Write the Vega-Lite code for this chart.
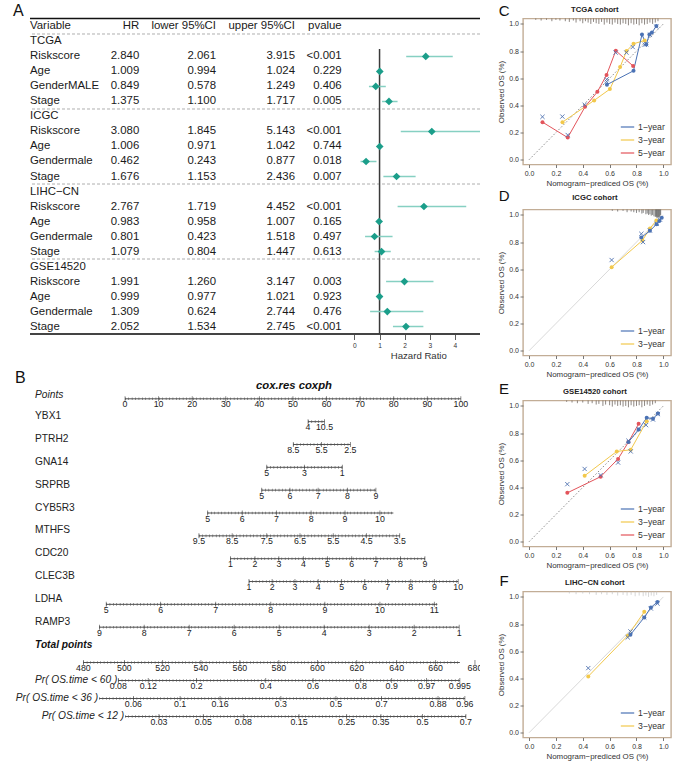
{
"$schema":"https://vega.github.io/schema/vega-lite/v6.json",
"padding":{"left":13,"top":2.5,"right":0,"bottom":0},
"spacing":16,
"config":{"font":"Liberation Sans","view":{"stroke":null},"text":{"font":"Liberation Sans"},"axis":{"labelFont":"Liberation Sans","titleFont":"Liberation Sans","grid":false,"labelFlush":false,"labelOverlap":false},"legend":{"labelFont":"Liberation Sans"}},
"datasets":{
"forest":[
{"i":0,"var":"Variable","p":"pvalue"},
{"i":1,"var":"TCGA"},
{"i":2,"var":"Riskscore","hr":2.840,"lo":2.061,"hi":3.915,"p":"<0.001"},
{"i":3,"var":"Age","hr":1.009,"lo":0.994,"hi":1.024,"p":"0.229"},
{"i":4,"var":"GenderMALE","hr":0.849,"lo":0.578,"hi":1.249,"p":"0.406"},
{"i":5,"var":"Stage","hr":1.375,"lo":1.100,"hi":1.717,"p":"0.005"},
{"i":6,"var":"ICGC"},
{"i":7,"var":"Riskscore","hr":3.080,"lo":1.845,"hi":5.143,"p":"<0.001"},
{"i":8,"var":"Age","hr":1.006,"lo":0.971,"hi":1.042,"p":"0.744"},
{"i":9,"var":"Gendermale","hr":0.462,"lo":0.243,"hi":0.877,"p":"0.018"},
{"i":10,"var":"Stage","hr":1.676,"lo":1.153,"hi":2.436,"p":"0.007"},
{"i":11,"var":"LIHC−CN"},
{"i":12,"var":"Riskscore","hr":2.767,"lo":1.719,"hi":4.452,"p":"<0.001"},
{"i":13,"var":"Age","hr":0.983,"lo":0.958,"hi":1.007,"p":"0.165"},
{"i":14,"var":"Gendermale","hr":0.801,"lo":0.423,"hi":1.518,"p":"0.497"},
{"i":15,"var":"Stage","hr":1.079,"lo":0.804,"hi":1.447,"p":"0.613"},
{"i":16,"var":"GSE14520"},
{"i":17,"var":"Riskscore","hr":1.991,"lo":1.260,"hi":3.147,"p":"0.003"},
{"i":18,"var":"Age","hr":0.999,"lo":0.977,"hi":1.021,"p":"0.923"},
{"i":19,"var":"Gendermale","hr":1.309,"lo":0.624,"hi":2.744,"p":"0.476"},
{"i":20,"var":"Stage","hr":2.052,"lo":1.534,"hi":2.745,"p":"<0.001"}
],
"nomoLines":[
{"g":"u","row":"Points","lo":0,"hi":100},
{"g":"u","row":"YBX1","lo":54.5,"hi":59.4},
{"g":"u","row":"PTRH2","lo":50.1,"hi":67.1},
{"g":"u","row":"GNA14","lo":42.2,"hi":64.7},
{"g":"u","row":"SRPRB","lo":40.7,"hi":74.7},
{"g":"u","row":"CYB5R3","lo":24.6,"hi":79.9},
{"g":"u","row":"MTHFS","lo":22.0,"hi":81.8},
{"g":"u","row":"CDC20","lo":31.4,"hi":89.3},
{"g":"u","row":"CLEC3B","lo":36.9,"hi":99.2},
{"g":"u","row":"LDHA","lo":-5.6,"hi":93.0},
{"g":"u","row":"RAMP3","lo":-7.6,"hi":99.5},
{"g":"l","row":"tp","lo":-12.4,"hi":99.7},
{"g":"l","row":"pr60","name":"Pr( OS.time < 60 )","lo":-2.0,"hi":99.7},
{"g":"l","row":"pr36","name":"Pr( OS.time < 36 )","lo":-7.7,"hi":101.2},
{"g":"l","row":"pr12","name":"Pr( OS.time < 12 )","lo":0.0,"hi":101.5}
],
"nomoTicks":[
{"g":"u","row":"Points","pts":0,"lab":"0"},{"g":"u","row":"Points","pts":10,"lab":"10"},{"g":"u","row":"Points","pts":20,"lab":"20"},{"g":"u","row":"Points","pts":30,"lab":"30"},{"g":"u","row":"Points","pts":40,"lab":"40"},{"g":"u","row":"Points","pts":50,"lab":"50"},{"g":"u","row":"Points","pts":60,"lab":"60"},{"g":"u","row":"Points","pts":70,"lab":"70"},{"g":"u","row":"Points","pts":80,"lab":"80"},{"g":"u","row":"Points","pts":90,"lab":"90"},{"g":"u","row":"Points","pts":100,"lab":"100"},
{"g":"u","row":"YBX1","pts":54.5,"lab":"4"},{"g":"u","row":"YBX1","pts":59.4,"lab":"10.5"},
{"g":"u","row":"PTRH2","pts":50.1,"lab":"8.5"},{"g":"u","row":"PTRH2","pts":58.5,"lab":"5.5"},{"g":"u","row":"PTRH2","pts":67.1,"lab":"2.5"},
{"g":"u","row":"GNA14","pts":42.2,"lab":"5"},{"g":"u","row":"GNA14","pts":53.4,"lab":"3"},{"g":"u","row":"GNA14","pts":64.7,"lab":"1"},
{"g":"u","row":"SRPRB","pts":40.7,"lab":"5"},{"g":"u","row":"SRPRB","pts":49.1,"lab":"6"},{"g":"u","row":"SRPRB","pts":57.5,"lab":"7"},{"g":"u","row":"SRPRB","pts":66.2,"lab":"8"},{"g":"u","row":"SRPRB","pts":74.7,"lab":"9"},
{"g":"u","row":"CYB5R3","pts":24.6,"lab":"5"},{"g":"u","row":"CYB5R3","pts":34.9,"lab":"6"},{"g":"u","row":"CYB5R3","pts":45.1,"lab":"7"},{"g":"u","row":"CYB5R3","pts":55.4,"lab":"8"},{"g":"u","row":"CYB5R3","pts":65.5,"lab":"9"},{"g":"u","row":"CYB5R3","pts":75.9,"lab":"10"},
{"g":"u","row":"MTHFS","pts":22.0,"lab":"9.5"},{"g":"u","row":"MTHFS","pts":31.9,"lab":"8.5"},{"g":"u","row":"MTHFS","pts":42.2,"lab":"7.5"},{"g":"u","row":"MTHFS","pts":52.1,"lab":"6.5"},{"g":"u","row":"MTHFS","pts":62.0,"lab":"5.5"},{"g":"u","row":"MTHFS","pts":71.9,"lab":"4.5"},{"g":"u","row":"MTHFS","pts":81.8,"lab":"3.5"},
{"g":"u","row":"CDC20","pts":31.4,"lab":"1"},{"g":"u","row":"CDC20","pts":38.7,"lab":"2"},{"g":"u","row":"CDC20","pts":45.8,"lab":"3"},{"g":"u","row":"CDC20","pts":53.1,"lab":"4"},{"g":"u","row":"CDC20","pts":60.3,"lab":"5"},{"g":"u","row":"CDC20","pts":67.5,"lab":"6"},{"g":"u","row":"CDC20","pts":74.7,"lab":"7"},{"g":"u","row":"CDC20","pts":82.0,"lab":"8"},{"g":"u","row":"CDC20","pts":89.3,"lab":"9"},
{"g":"u","row":"CLEC3B","pts":36.9,"lab":"1"},{"g":"u","row":"CLEC3B","pts":43.8,"lab":"2"},{"g":"u","row":"CLEC3B","pts":50.6,"lab":"3"},{"g":"u","row":"CLEC3B","pts":57.5,"lab":"4"},{"g":"u","row":"CLEC3B","pts":64.5,"lab":"5"},{"g":"u","row":"CLEC3B","pts":71.4,"lab":"6"},{"g":"u","row":"CLEC3B","pts":78.2,"lab":"7"},{"g":"u","row":"CLEC3B","pts":85.1,"lab":"8"},{"g":"u","row":"CLEC3B","pts":92.1,"lab":"9"},{"g":"u","row":"CLEC3B","pts":99.2,"lab":"10"},
{"g":"u","row":"LDHA","pts":-5.6,"lab":"5"},{"g":"u","row":"LDHA","pts":10.6,"lab":"6"},{"g":"u","row":"LDHA","pts":27.0,"lab":"7"},{"g":"u","row":"LDHA","pts":43.4,"lab":"8"},{"g":"u","row":"LDHA","pts":59.5,"lab":"9"},{"g":"u","row":"LDHA","pts":75.9,"lab":"10"},{"g":"u","row":"LDHA","pts":92.1,"lab":"11"},
{"g":"u","row":"RAMP3","pts":-7.6,"lab":"9"},{"g":"u","row":"RAMP3","pts":5.7,"lab":"8"},{"g":"u","row":"RAMP3","pts":19.1,"lab":"7"},{"g":"u","row":"RAMP3","pts":32.5,"lab":"6"},{"g":"u","row":"RAMP3","pts":45.9,"lab":"5"},{"g":"u","row":"RAMP3","pts":59.3,"lab":"4"},{"g":"u","row":"RAMP3","pts":72.7,"lab":"3"},{"g":"u","row":"RAMP3","pts":86.1,"lab":"2"},{"g":"u","row":"RAMP3","pts":99.5,"lab":"1"},
{"g":"l","row":"tp","pts":-12.4,"lab":"480"},{"g":"l","row":"tp","pts":-0.2,"lab":"500"},{"g":"l","row":"tp","pts":11.2,"lab":"520"},{"g":"l","row":"tp","pts":22.6,"lab":"540"},{"g":"l","row":"tp","pts":34.2,"lab":"560"},{"g":"l","row":"tp","pts":45.8,"lab":"580"},{"g":"l","row":"tp","pts":57.3,"lab":"600"},{"g":"l","row":"tp","pts":69.0,"lab":"620"},{"g":"l","row":"tp","pts":80.9,"lab":"640"},{"g":"l","row":"tp","pts":92.5,"lab":"660"},{"g":"l","row":"tp","pts":104.2,"lab":"680"},
{"g":"l","row":"pr60","pts":-2.0,"lab":"0.08"},{"g":"l","row":"pr60","pts":6.9,"lab":"0.12"},{"g":"l","row":"pr60","pts":21.3,"lab":"0.2"},{"g":"l","row":"pr60","pts":41.9,"lab":"0.4"},{"g":"l","row":"pr60","pts":56.0,"lab":"0.6"},{"g":"l","row":"pr60","pts":70.2,"lab":"0.8"},{"g":"l","row":"pr60","pts":79.4,"lab":"0.9"},{"g":"l","row":"pr60","pts":89.8,"lab":"0.97"},{"g":"l","row":"pr60","pts":99.7,"lab":"0.995"},
{"g":"l","row":"pr36","pts":2.5,"lab":"0.06"},{"g":"l","row":"pr36","pts":16.4,"lab":"0.1"},{"g":"l","row":"pr36","pts":28.3,"lab":"0.16"},{"g":"l","row":"pr36","pts":46.4,"lab":"0.3"},{"g":"l","row":"pr36","pts":62.8,"lab":"0.5"},{"g":"l","row":"pr36","pts":76.4,"lab":"0.7"},{"g":"l","row":"pr36","pts":93.2,"lab":"0.88"},{"g":"l","row":"pr36","pts":101.2,"lab":"0.96"},
{"g":"l","row":"pr12","pts":10.1,"lab":"0.03"},{"g":"l","row":"pr12","pts":23.3,"lab":"0.05"},{"g":"l","row":"pr12","pts":35.2,"lab":"0.08"},{"g":"l","row":"pr12","pts":51.8,"lab":"0.15"},{"g":"l","row":"pr12","pts":66.0,"lab":"0.25"},{"g":"l","row":"pr12","pts":76.2,"lab":"0.35"},{"g":"l","row":"pr12","pts":88.6,"lab":"0.5"},{"g":"l","row":"pr12","pts":101.5,"lab":"0.7"}
],
"cal":[
{"p":"C","s":"5−year","x":0.10,"y":0.277},{"p":"C","s":"5−year","x":0.288,"y":0.163},{"p":"C","s":"5−year","x":0.417,"y":0.39},{"p":"C","s":"5−year","x":0.509,"y":0.50},{"p":"C","s":"5−year","x":0.577,"y":0.624},{"p":"C","s":"5−year","x":0.646,"y":0.803},{"p":"C","s":"5−year","x":0.775,"y":0.69},
{"p":"C","s":"3−year","x":0.249,"y":0.277},{"p":"C","s":"3−year","x":0.485,"y":0.437},{"p":"C","s":"3−year","x":0.602,"y":0.52},{"p":"C","s":"3−year","x":0.678,"y":0.683},{"p":"C","s":"3−year","x":0.726,"y":0.80},{"p":"C","s":"3−year","x":0.778,"y":0.854},{"p":"C","s":"3−year","x":0.861,"y":0.878},
{"p":"C","s":"1−year","x":0.58,"y":0.553},{"p":"C","s":"1−year","x":0.778,"y":0.655},{"p":"C","s":"1−year","x":0.841,"y":0.922},{"p":"C","s":"1−year","x":0.873,"y":0.849},{"p":"C","s":"1−year","x":0.896,"y":0.922},{"p":"C","s":"1−year","x":0.915,"y":0.936},{"p":"C","s":"1−year","x":0.948,"y":0.985},
{"p":"D","s":"3−year","x":0.615,"y":0.615},{"p":"D","s":"3−year","x":0.844,"y":0.812},{"p":"D","s":"3−year","x":0.90,"y":0.90},{"p":"D","s":"3−year","x":0.948,"y":0.959},
{"p":"D","s":"1−year","x":0.836,"y":0.834},{"p":"D","s":"1−year","x":0.90,"y":0.883},{"p":"D","s":"1−year","x":0.95,"y":0.932},{"p":"D","s":"1−year","x":0.97,"y":0.956},{"p":"D","s":"1−year","x":0.988,"y":0.98},
{"p":"E","s":"5−year","x":0.285,"y":0.36},{"p":"E","s":"5−year","x":0.533,"y":0.479},{"p":"E","s":"5−year","x":0.663,"y":0.61},{"p":"E","s":"5−year","x":0.74,"y":0.734},{"p":"E","s":"5−year","x":0.816,"y":0.868},
{"p":"E","s":"3−year","x":0.414,"y":0.486},{"p":"E","s":"3−year","x":0.653,"y":0.665},{"p":"E","s":"3−year","x":0.757,"y":0.677},{"p":"E","s":"3−year","x":0.876,"y":0.888},
{"p":"E","s":"1−year","x":0.74,"y":0.734},{"p":"E","s":"1−year","x":0.816,"y":0.826},{"p":"E","s":"1−year","x":0.876,"y":0.913},{"p":"E","s":"1−year","x":0.923,"y":0.906},{"p":"E","s":"1−year","x":0.96,"y":0.945},
{"p":"F","s":"3−year","x":0.441,"y":0.415},{"p":"F","s":"3−year","x":0.735,"y":0.715},{"p":"F","s":"3−year","x":0.858,"y":0.89},
{"p":"F","s":"1−year","x":0.755,"y":0.722},{"p":"F","s":"1−year","x":0.858,"y":0.849},{"p":"F","s":"1−year","x":0.907,"y":0.922},{"p":"F","s":"1−year","x":0.956,"y":0.963}
],
"bc":[
{"p":"C","x":0.10,"y":0.316},{"p":"C","x":0.248,"y":0.318},{"p":"C","x":0.288,"y":0.182},{"p":"C","x":0.414,"y":0.405},{"p":"C","x":0.578,"y":0.592},{"p":"C","x":0.578,"y":0.575},{"p":"C","x":0.645,"y":0.789},{"p":"C","x":0.725,"y":0.789},{"p":"C","x":0.772,"y":0.83},{"p":"C","x":0.861,"y":0.847},{"p":"C","x":0.873,"y":0.85},{"p":"C","x":0.9,"y":0.92},{"p":"C","x":0.948,"y":0.98},
{"p":"D","x":0.615,"y":0.668},{"p":"D","x":0.836,"y":0.861},{"p":"D","x":0.849,"y":0.80},{"p":"D","x":0.90,"y":0.885},{"p":"D","x":0.95,"y":0.935},{"p":"D","x":0.975,"y":0.965},
{"p":"E","x":0.285,"y":0.424},{"p":"E","x":0.414,"y":0.536},{"p":"E","x":0.533,"y":0.49},{"p":"E","x":0.663,"y":0.583},{"p":"E","x":0.757,"y":0.665},{"p":"E","x":0.74,"y":0.744},{"p":"E","x":0.816,"y":0.83},{"p":"E","x":0.871,"y":0.859},{"p":"E","x":0.923,"y":0.9},{"p":"E","x":0.96,"y":0.94},
{"p":"F","x":0.441,"y":0.476},{"p":"F","x":0.735,"y":0.702},{"p":"F","x":0.755,"y":0.746},{"p":"F","x":0.858,"y":0.849},{"p":"F","x":0.907,"y":0.915},{"p":"F","x":0.956,"y":0.951}
],
"rug":[
{"p":"C","x":0.05,"y":1.03},{"p":"C","x":0.09,"y":1.025},{"p":"C","x":0.13,"y":1.03},{"p":"C","x":0.17,"y":1.02},{"p":"C","x":0.2,"y":1.03},{"p":"C","x":0.23,"y":1.025},{"p":"C","x":0.27,"y":1.02},{"p":"C","x":0.3,"y":1.015},{"p":"C","x":0.33,"y":1.025},{"p":"C","x":0.35,"y":1.01},{"p":"C","x":0.38,"y":1.02},{"p":"C","x":0.4,"y":1.005},{"p":"C","x":0.42,"y":1.02},{"p":"C","x":0.44,"y":1.01},{"p":"C","x":0.46,"y":1.0},{"p":"C","x":0.48,"y":1.015},{"p":"C","x":0.5,"y":1.005},{"p":"C","x":0.52,"y":1.0},{"p":"C","x":0.54,"y":1.015},{"p":"C","x":0.56,"y":0.995},{"p":"C","x":0.58,"y":1.01},{"p":"C","x":0.6,"y":1.0},{"p":"C","x":0.62,"y":0.995},{"p":"C","x":0.64,"y":1.01},{"p":"C","x":0.66,"y":1.0},{"p":"C","x":0.68,"y":0.995},{"p":"C","x":0.7,"y":1.005},{"p":"C","x":0.72,"y":1.0},{"p":"C","x":0.74,"y":0.99},{"p":"C","x":0.76,"y":1.005},{"p":"C","x":0.78,"y":0.995},{"p":"C","x":0.8,"y":1.0},{"p":"C","x":0.82,"y":0.99},{"p":"C","x":0.84,"y":1.005},{"p":"C","x":0.86,"y":0.995},{"p":"C","x":0.88,"y":1.0},{"p":"C","x":0.9,"y":1.01},{"p":"C","x":0.92,"y":1.0},{"p":"C","x":0.94,"y":1.01},{"p":"C","x":0.96,"y":1.02},
{"p":"D","x":0.62,"y":1.03},{"p":"D","x":0.66,"y":1.025},{"p":"D","x":0.7,"y":1.03},{"p":"D","x":0.73,"y":1.02},{"p":"D","x":0.76,"y":1.025},{"p":"D","x":0.78,"y":1.02},{"p":"D","x":0.8,"y":1.015},{"p":"D","x":0.82,"y":1.02},{"p":"D","x":0.84,"y":1.01},{"p":"D","x":0.85,"y":1.015},{"p":"D","x":0.87,"y":1.005},{"p":"D","x":0.88,"y":1.01},{"p":"D","x":0.89,"y":1.0},{"p":"D","x":0.9,"y":1.005},{"p":"D","x":0.91,"y":0.995},{"p":"D","x":0.92,"y":1.0},{"p":"D","x":0.93,"y":0.99},{"p":"D","x":0.94,"y":0.985},{"p":"D","x":0.945,"y":0.99},{"p":"D","x":0.95,"y":0.98},{"p":"D","x":0.955,"y":0.985},{"p":"D","x":0.96,"y":0.975},{"p":"D","x":0.965,"y":0.985},{"p":"D","x":0.97,"y":0.98},{"p":"D","x":0.975,"y":0.99},{"p":"D","x":0.98,"y":1.0},
{"p":"E","x":0.28,"y":1.03},{"p":"E","x":0.32,"y":1.025},{"p":"E","x":0.36,"y":1.02},{"p":"E","x":0.4,"y":1.025},{"p":"E","x":0.44,"y":1.015},{"p":"E","x":0.47,"y":1.02},{"p":"E","x":0.5,"y":1.01},{"p":"E","x":0.52,"y":1.015},{"p":"E","x":0.55,"y":1.0},{"p":"E","x":0.57,"y":1.01},{"p":"E","x":0.6,"y":1.005},{"p":"E","x":0.62,"y":0.995},{"p":"E","x":0.64,"y":1.01},{"p":"E","x":0.66,"y":1.0},{"p":"E","x":0.68,"y":1.005},{"p":"E","x":0.7,"y":0.995},{"p":"E","x":0.72,"y":1.0},{"p":"E","x":0.74,"y":0.99},{"p":"E","x":0.76,"y":1.005},{"p":"E","x":0.78,"y":0.995},{"p":"E","x":0.8,"y":1.0},{"p":"E","x":0.82,"y":1.005},{"p":"E","x":0.84,"y":0.99},{"p":"E","x":0.86,"y":1.0},{"p":"E","x":0.88,"y":1.01},{"p":"E","x":0.9,"y":1.0},{"p":"E","x":0.92,"y":1.01},{"p":"E","x":0.94,"y":1.02},
{"p":"F","x":0.3,"y":1.025},{"p":"F","x":0.35,"y":1.02},{"p":"F","x":0.4,"y":1.025},{"p":"F","x":0.45,"y":1.02},{"p":"F","x":0.5,"y":1.015},{"p":"F","x":0.54,"y":1.02},{"p":"F","x":0.58,"y":1.015},{"p":"F","x":0.62,"y":1.02},{"p":"F","x":0.66,"y":1.01},{"p":"F","x":0.7,"y":1.015},{"p":"F","x":0.73,"y":1.01},{"p":"F","x":0.76,"y":1.015},{"p":"F","x":0.79,"y":1.005},{"p":"F","x":0.82,"y":1.01},{"p":"F","x":0.85,"y":1.005},{"p":"F","x":0.87,"y":1.01},{"p":"F","x":0.89,"y":1.0},{"p":"F","x":0.91,"y":1.01},{"p":"F","x":0.93,"y":1.005},{"p":"F","x":0.95,"y":1.015}
]
},
"hconcat":[
{"bounds":"flush","spacing":56,"vconcat":[
{"width":450,"height":316,
"data":{"name":"forest"},
"resolve":{"scale":{"x":"independent"},"axis":{"x":"independent"}},
"layer":[
{"layer":[
{"data":{"values":[{}]},"mark":{"type":"rule","stroke":"#111111","strokeWidth":1.5},"encoding":{"y":{"datum":-0.533,"type":"quantitative","scale":{"domain":[-0.533,20.533],"reverse":true,"nice":false,"zero":false},"axis":null}}},
{"data":{"values":[{"s":0.5},{"s":5.5},{"s":10.5},{"s":15.5}]},"mark":{"type":"rule","stroke":"#9a9a9a","strokeWidth":0.8,"strokeDash":[3,2]},"encoding":{"y":{"field":"s","type":"quantitative","scale":{"domain":[-0.533,20.533],"reverse":true,"nice":false,"zero":false},"axis":null}}},
{"data":{"values":[{}]},"mark":{"type":"rule","stroke":"#444444","strokeWidth":2},"encoding":{"y":{"datum":20.5,"type":"quantitative","scale":{"domain":[-0.533,20.533],"reverse":true,"nice":false,"zero":false},"axis":null}}},
{"data":{"values":[{}]},"mark":{"type":"text","text":"A","fontSize":16,"align":"left","baseline":"middle","color":"#111111"},"encoding":{"x":{"datum":-17,"type":"quantitative","scale":{"domain":[0,450],"nice":false,"zero":false},"axis":null},"y":{"datum":-1.033,"type":"quantitative","scale":{"domain":[-0.533,20.533],"reverse":true,"nice":false,"zero":false},"axis":null}}},
{"mark":{"type":"text","fontSize":11.4,"align":"left","baseline":"middle","color":"#1a1a1a"},"encoding":{"x":{"datum":0,"type":"quantitative","scale":{"domain":[0,450],"nice":false,"zero":false},"axis":null},"y":{"field":"i","type":"quantitative","scale":{"domain":[-0.533,20.533],"reverse":true,"nice":false,"zero":false},"axis":null},"text":{"field":"var","type":"nominal"}}},
{"transform":[{"filter":"isValid(datum.hr)"}],"mark":{"type":"text","fontSize":11.4,"align":"right","baseline":"middle","color":"#1a1a1a"},"encoding":{"x":{"datum":109.3,"type":"quantitative","scale":{"domain":[0,450],"nice":false,"zero":false},"axis":null},"y":{"field":"i","type":"quantitative","scale":{"domain":[-0.533,20.533],"reverse":true,"nice":false,"zero":false},"axis":null},"text":{"field":"hr","type":"quantitative","format":".3f"}}},
{"transform":[{"filter":"isValid(datum.hr)"}],"mark":{"type":"text","fontSize":11.4,"align":"right","baseline":"middle","color":"#1a1a1a"},"encoding":{"x":{"datum":186,"type":"quantitative","scale":{"domain":[0,450],"nice":false,"zero":false},"axis":null},"y":{"field":"i","type":"quantitative","scale":{"domain":[-0.533,20.533],"reverse":true,"nice":false,"zero":false},"axis":null},"text":{"field":"lo","type":"quantitative","format":".3f"}}},
{"transform":[{"filter":"isValid(datum.hr)"}],"mark":{"type":"text","fontSize":11.4,"align":"right","baseline":"middle","color":"#1a1a1a"},"encoding":{"x":{"datum":265,"type":"quantitative","scale":{"domain":[0,450],"nice":false,"zero":false},"axis":null},"y":{"field":"i","type":"quantitative","scale":{"domain":[-0.533,20.533],"reverse":true,"nice":false,"zero":false},"axis":null},"text":{"field":"hi","type":"quantitative","format":".3f"}}},
{"transform":[{"filter":"isValid(datum.p)"}],"mark":{"type":"text","fontSize":11.4,"align":"right","baseline":"middle","color":"#1a1a1a"},"encoding":{"x":{"datum":311.7,"type":"quantitative","scale":{"domain":[0,450],"nice":false,"zero":false},"axis":null},"y":{"field":"i","type":"quantitative","scale":{"domain":[-0.533,20.533],"reverse":true,"nice":false,"zero":false},"axis":null},"text":{"field":"p","type":"nominal"}}},
{"data":{"values":[{"t":"HR"}]},"mark":{"type":"text","fontSize":11.4,"align":"right","baseline":"middle","color":"#1a1a1a"},"encoding":{"x":{"datum":109.3,"type":"quantitative","scale":{"domain":[0,450],"nice":false,"zero":false},"axis":null},"y":{"datum":0,"type":"quantitative","scale":{"domain":[-0.533,20.533],"reverse":true,"nice":false,"zero":false},"axis":null},"text":{"field":"t","type":"nominal"}}},
{"data":{"values":[{"t":"lower 95%CI"}]},"mark":{"type":"text","fontSize":11.4,"align":"right","baseline":"middle","color":"#1a1a1a"},"encoding":{"x":{"datum":186,"type":"quantitative","scale":{"domain":[0,450],"nice":false,"zero":false},"axis":null},"y":{"datum":0,"type":"quantitative","scale":{"domain":[-0.533,20.533],"reverse":true,"nice":false,"zero":false},"axis":null},"text":{"field":"t","type":"nominal"}}},
{"data":{"values":[{"t":"upper 95%CI"}]},"mark":{"type":"text","fontSize":11.4,"align":"right","baseline":"middle","color":"#1a1a1a"},"encoding":{"x":{"datum":265,"type":"quantitative","scale":{"domain":[0,450],"nice":false,"zero":false},"axis":null},"y":{"datum":0,"type":"quantitative","scale":{"domain":[-0.533,20.533],"reverse":true,"nice":false,"zero":false},"axis":null},"text":{"field":"t","type":"nominal"}}}
]},
{"layer":[
{"data":{"values":[{}]},"mark":{"type":"rule","stroke":"#3a3a3a","strokeWidth":1.5},"encoding":{"x":{"datum":1,"type":"quantitative","scale":{"domain":[-12.92,5.0],"nice":false,"zero":false},"axis":{"orient":"bottom","values":[0,1,2,3,4],"tickCount":20,"domain":false,"grid":false,"tickSize":5,"tickColor":"#333333","tickWidth":0.8,"labelFontSize":6.6,"labelPadding":2.5,"labelColor":"#333333","labelOverlap":false,"title":"Hazard Ratio","titleFontSize":9.6,"titleFontWeight":"normal","titleColor":"#333333","titleX":388.3,"titlePadding":1.5}},"y":{"datum":1.5,"type":"quantitative","scale":{"domain":[-0.533,20.533],"reverse":true,"nice":false,"zero":false},"axis":null},"y2":{"datum":20.5}}},
{"transform":[{"filter":"isValid(datum.hr)"}],"mark":{"type":"rule","stroke":"#86d0c2","strokeWidth":1.3,"clip":true},"encoding":{"x":{"field":"lo","type":"quantitative","scale":{"domain":[-12.92,5.0],"nice":false,"zero":false}},"x2":{"field":"hi"},"y":{"field":"i","type":"quantitative","scale":{"domain":[-0.533,20.533],"reverse":true,"nice":false,"zero":false},"axis":null}}},
{"transform":[{"filter":"isValid(datum.hr)"}],"mark":{"type":"point","shape":"diamond","filled":true,"size":60,"color":"#1b9e8a","opacity":1},"encoding":{"x":{"field":"hr","type":"quantitative","scale":{"domain":[-12.92,5.0],"nice":false,"zero":false}},"y":{"field":"i","type":"quantitative","scale":{"domain":[-0.533,20.533],"reverse":true,"nice":false,"zero":false},"axis":null}}}
]}
]},
{"width":450,"height":345,
"resolve":{"scale":{"y":"independent"}},
"layer":[
{"layer":[
{"data":{"name":"nomoLines"},"transform":[{"filter":"datum.g==='u'"}],"mark":{"type":"rule","stroke":"#3c3c3c","strokeWidth":0.9},"encoding":{"x":{"field":"lo","type":"quantitative","scale":{"domain":[-28.3,105.7],"nice":false,"zero":false},"axis":null},"x2":{"field":"hi"},"y":{"field":"row","type":"nominal","scale":{"type":"point","domain":["Points","YBX1","PTRH2","GNA14","SRPRB","CYB5R3","MTHFS","CDC20","CLEC3B","LDHA","RAMP3","_u1","_u2","_u3","_u4"],"padding":0.553,"align":0.329},"axis":null}}},
{"data":{"name":"nomoLines"},"transform":[{"filter":"datum.g==='u'"}],"mark":{"type":"rule","stroke":"#555555","strokeWidth":2.6,"strokeDash":[0.6,2.8]},"encoding":{"x":{"field":"lo","type":"quantitative","scale":{"domain":[-28.3,105.7],"nice":false,"zero":false},"axis":null},"x2":{"field":"hi"},"y":{"field":"row","type":"nominal","scale":{"type":"point","domain":["Points","YBX1","PTRH2","GNA14","SRPRB","CYB5R3","MTHFS","CDC20","CLEC3B","LDHA","RAMP3","_u1","_u2","_u3","_u4"],"padding":0.553,"align":0.329},"axis":null}}},
{"data":{"name":"nomoTicks"},"transform":[{"filter":"datum.g==='u'"}],"mark":{"type":"tick","color":"#333333","size":5,"thickness":0.8},"encoding":{"x":{"field":"pts","type":"quantitative","scale":{"domain":[-28.3,105.7],"nice":false,"zero":false},"axis":null},"y":{"field":"row","type":"nominal","scale":{"type":"point","domain":["Points","YBX1","PTRH2","GNA14","SRPRB","CYB5R3","MTHFS","CDC20","CLEC3B","LDHA","RAMP3","_u1","_u2","_u3","_u4"],"padding":0.553,"align":0.329},"axis":null}}},
{"data":{"name":"nomoTicks"},"transform":[{"filter":"datum.g==='u'"}],"mark":{"type":"text","fontSize":8.8,"baseline":"top","dy":1.5,"color":"#222222","clip":true},"encoding":{"x":{"field":"pts","type":"quantitative","scale":{"domain":[-28.3,105.7],"nice":false,"zero":false},"axis":null},"y":{"field":"row","type":"nominal","scale":{"type":"point","domain":["Points","YBX1","PTRH2","GNA14","SRPRB","CYB5R3","MTHFS","CDC20","CLEC3B","LDHA","RAMP3","_u1","_u2","_u3","_u4"],"padding":0.553,"align":0.329},"axis":null},"text":{"field":"lab","type":"nominal"}}},
{"data":{"name":"nomoLines"},"transform":[{"filter":"datum.g==='u' && datum.row!=='Points'"}],"mark":{"type":"text","fontSize":10.2,"align":"left","baseline":"middle","dy":-5.5,"color":"#222222"},"encoding":{"x":{"datum":-26.8,"type":"quantitative","scale":{"domain":[-28.3,105.7],"nice":false,"zero":false},"axis":null},"y":{"field":"row","type":"nominal","scale":{"type":"point","domain":["Points","YBX1","PTRH2","GNA14","SRPRB","CYB5R3","MTHFS","CDC20","CLEC3B","LDHA","RAMP3","_u1","_u2","_u3","_u4"],"padding":0.553,"align":0.329},"axis":null},"text":{"field":"row","type":"nominal"}}},
{"data":{"values":[{}]},"mark":{"type":"text","text":"Points","fontSize":10.2,"fontStyle":"italic","align":"left","baseline":"middle","dy":-3.5,"color":"#222222"},"encoding":{"x":{"datum":-26.8,"type":"quantitative","scale":{"domain":[-28.3,105.7],"nice":false,"zero":false},"axis":null},"y":{"datum":"Points","type":"nominal","scale":{"type":"point","domain":["Points","YBX1","PTRH2","GNA14","SRPRB","CYB5R3","MTHFS","CDC20","CLEC3B","LDHA","RAMP3","_u1","_u2","_u3","_u4"],"padding":0.553,"align":0.329},"axis":null}}},
{"data":{"values":[{}]},"mark":{"type":"text","text":"B","fontSize":16,"align":"left","baseline":"middle","dy":-20.5,"color":"#111111"},"encoding":{"x":{"datum":-32.8,"type":"quantitative","scale":{"domain":[-28.3,105.7],"nice":false,"zero":false},"axis":null},"y":{"datum":"Points","type":"nominal","scale":{"type":"point","domain":["Points","YBX1","PTRH2","GNA14","SRPRB","CYB5R3","MTHFS","CDC20","CLEC3B","LDHA","RAMP3","_u1","_u2","_u3","_u4"],"padding":0.553,"align":0.329},"axis":null}}},
{"data":{"values":[{}]},"mark":{"type":"text","text":"cox.res coxph","fontSize":11.3,"fontWeight":"bold","fontStyle":"italic","align":"center","baseline":"middle","dy":-13,"color":"#111111"},"encoding":{"x":{"datum":50.3,"type":"quantitative","scale":{"domain":[-28.3,105.7],"nice":false,"zero":false},"axis":null},"y":{"datum":"Points","type":"nominal","scale":{"type":"point","domain":["Points","YBX1","PTRH2","GNA14","SRPRB","CYB5R3","MTHFS","CDC20","CLEC3B","LDHA","RAMP3","_u1","_u2","_u3","_u4"],"padding":0.553,"align":0.329},"axis":null}}}
]},
{"layer":[
{"data":{"name":"nomoLines"},"transform":[{"filter":"datum.g==='l'"}],"mark":{"type":"rule","stroke":"#3c3c3c","strokeWidth":0.9},"encoding":{"x":{"field":"lo","type":"quantitative","scale":{"domain":[-28.3,105.7],"nice":false,"zero":false},"axis":null},"x2":{"field":"hi"},"y":{"field":"row","type":"nominal","scale":{"type":"point","domain":["_l1","_l2","_l3","_l4","_l5","_l6","_l7","_l8","_l9","_l10","_l11","_l12","_l13","_l14","Total points","tp","pr60","pr36","pr12"],"padding":0.583,"align":0.095},"axis":null}}},
{"data":{"name":"nomoLines"},"transform":[{"filter":"datum.g==='l'"}],"mark":{"type":"rule","stroke":"#555555","strokeWidth":2.6,"strokeDash":[0.6,2.8]},"encoding":{"x":{"field":"lo","type":"quantitative","scale":{"domain":[-28.3,105.7],"nice":false,"zero":false},"axis":null},"x2":{"field":"hi"},"y":{"field":"row","type":"nominal","scale":{"type":"point","domain":["_l1","_l2","_l3","_l4","_l5","_l6","_l7","_l8","_l9","_l10","_l11","_l12","_l13","_l14","Total points","tp","pr60","pr36","pr12"],"padding":0.583,"align":0.095},"axis":null}}},
{"data":{"name":"nomoTicks"},"transform":[{"filter":"datum.g==='l'"}],"mark":{"type":"tick","color":"#333333","size":5,"thickness":0.8},"encoding":{"x":{"field":"pts","type":"quantitative","scale":{"domain":[-28.3,105.7],"nice":false,"zero":false},"axis":null},"y":{"field":"row","type":"nominal","scale":{"type":"point","domain":["_l1","_l2","_l3","_l4","_l5","_l6","_l7","_l8","_l9","_l10","_l11","_l12","_l13","_l14","Total points","tp","pr60","pr36","pr12"],"padding":0.583,"align":0.095},"axis":null}}},
{"data":{"name":"nomoTicks"},"transform":[{"filter":"datum.g==='l'"}],"mark":{"type":"text","fontSize":8.8,"baseline":"top","dy":1.5,"color":"#222222","clip":true},"encoding":{"x":{"field":"pts","type":"quantitative","scale":{"domain":[-28.3,105.7],"nice":false,"zero":false},"axis":null},"y":{"field":"row","type":"nominal","scale":{"type":"point","domain":["_l1","_l2","_l3","_l4","_l5","_l6","_l7","_l8","_l9","_l10","_l11","_l12","_l13","_l14","Total points","tp","pr60","pr36","pr12"],"padding":0.583,"align":0.095},"axis":null},"text":{"field":"lab","type":"nominal"}}},
{"data":{"values":[{}]},"mark":{"type":"text","text":"Total points","fontSize":10.2,"fontWeight":"bold","fontStyle":"italic","align":"left","baseline":"middle","color":"#111111"},"encoding":{"x":{"datum":-26.8,"type":"quantitative","scale":{"domain":[-28.3,105.7],"nice":false,"zero":false},"axis":null},"y":{"datum":"Total points","type":"nominal","scale":{"type":"point","domain":["_l1","_l2","_l3","_l4","_l5","_l6","_l7","_l8","_l9","_l10","_l11","_l12","_l13","_l14","Total points","tp","pr60","pr36","pr12"],"padding":0.583,"align":0.095},"axis":null}}},
{"data":{"name":"nomoLines"},"transform":[{"filter":"isValid(datum.name)"}],"mark":{"type":"text","fontSize":10.2,"fontStyle":"italic","align":"right","baseline":"middle","dx":-1,"dy":-1,"color":"#222222"},"encoding":{"x":{"field":"lo","type":"quantitative","scale":{"domain":[-28.3,105.7],"nice":false,"zero":false},"axis":null},"y":{"field":"row","type":"nominal","scale":{"type":"point","domain":["_l1","_l2","_l3","_l4","_l5","_l6","_l7","_l8","_l9","_l10","_l11","_l12","_l13","_l14","Total points","tp","pr60","pr36","pr12"],"padding":0.583,"align":0.095},"axis":null},"text":{"field":"name","type":"nominal"}}}
]}
]}
]},
{"bounds":"flush","spacing":45,"resolve":{"scale":{"color":"independent"},"legend":{"color":"independent"}},"vconcat":[
{"width":148,"height":146,"view":{"stroke":"#c2ad96","strokeWidth":1.4},
"layer":[
{"data":{"name":"rug"},"transform":[{"filter":"datum.p==='C'"}],"mark":{"type":"rule","stroke":"#5f544d","strokeWidth":0.7},"encoding":{"x":{"field":"x","type":"quantitative","scale":{"domain":[-0.045,1.057],"nice":false,"zero":false},"axis":{"values":[0,0.2,0.4,0.6,0.8,1],"tickCount":20,"format":".1f","labelOverlap":false,"title":"Nomogram−prediced OS (%)","domain":false,"tickSize":3,"tickColor":"#555555","tickWidth":0.8,"labelFontSize":7,"labelPadding":1.5,"labelColor":"#333333","titleFontSize":7.9,"titleFontWeight":"normal","titleColor":"#333333","titlePadding":3}},"y":{"field":"y","type":"quantitative","scale":{"domain":[-0.035,1.04],"nice":false,"zero":false},"axis":{"values":[0,0.2,0.4,0.6,0.8,1],"tickCount":20,"format":".1f","labelOverlap":false,"title":"Observed OS (%)","domain":false,"tickSize":3,"tickColor":"#555555","tickWidth":0.8,"labelFontSize":7,"labelPadding":1.5,"labelColor":"#333333","titleFontSize":7.9,"titleFontWeight":"normal","titleColor":"#333333","titlePadding":3}},"y2":{"datum":1.04}}},
{"data":{"values":[{}]},"mark":{"type":"rule","stroke":"#6a6a6a","strokeWidth":0.8,"strokeDash":[1.5,2]},"encoding":{"x":{"datum":0,"type":"quantitative","scale":{"domain":[-0.045,1.057],"nice":false,"zero":false}},"y":{"datum":0,"type":"quantitative","scale":{"domain":[-0.035,1.04],"nice":false,"zero":false}},"x2":{"datum":1},"y2":{"datum":1}}},
{"data":{"name":"cal"},"transform":[{"filter":"datum.p==='C'"}],"mark":{"type":"line","strokeWidth":1},"encoding":{"x":{"field":"x","type":"quantitative","scale":{"domain":[-0.045,1.057],"nice":false,"zero":false}},"y":{"field":"y","type":"quantitative","scale":{"domain":[-0.035,1.04],"nice":false,"zero":false}},"color":{"field":"s","type":"nominal","scale":{"domain":["1−year","3−year","5−year"],"range":["#4a72b5","#f2c84b","#e3545b"]},"legend":{"orient":"bottom-right","title":null,"symbolType":"stroke","symbolSize":180,"symbolStrokeWidth":1.2,"labelFontSize":8.7,"labelColor":"#333333","rowPadding":-4,"padding":0,"offset":6,"labelOffset":3}}}},
{"data":{"name":"cal"},"transform":[{"filter":"datum.p==='C'"}],"mark":{"type":"point","filled":true,"size":16,"opacity":1},"encoding":{"x":{"field":"x","type":"quantitative","scale":{"domain":[-0.045,1.057],"nice":false,"zero":false}},"y":{"field":"y","type":"quantitative","scale":{"domain":[-0.035,1.04],"nice":false,"zero":false}},"color":{"field":"s","type":"nominal"}}},
{"data":{"name":"bc"},"transform":[{"filter":"datum.p==='C'"}],"mark":{"type":"point","shape":"M-1,-1L1,1M1,-1L-1,1","filled":false,"size":18,"stroke":"#4f72b0","strokeWidth":0.9,"opacity":1},"encoding":{"x":{"field":"x","type":"quantitative","scale":{"domain":[-0.045,1.057],"nice":false,"zero":false}},"y":{"field":"y","type":"quantitative","scale":{"domain":[-0.035,1.04],"nice":false,"zero":false}}}},
{"data":{"values":[{}]},"mark":{"type":"text","text":"C","fontSize":15,"align":"center","baseline":"middle","color":"#111111"},"encoding":{"x":{"datum":-0.186,"type":"quantitative","scale":{"domain":[-0.045,1.057],"nice":false,"zero":false}},"y":{"datum":1.095,"type":"quantitative","scale":{"domain":[-0.035,1.04],"nice":false,"zero":false}}}},
{"data":{"values":[{}]},"mark":{"type":"text","text":"TCGA cohort","fontSize":7.7,"fontWeight":"bold","align":"center","baseline":"middle","color":"#222222"},"encoding":{"x":{"datum":0.49,"type":"quantitative","scale":{"domain":[-0.045,1.057],"nice":false,"zero":false}},"y":{"datum":1.1,"type":"quantitative","scale":{"domain":[-0.035,1.04],"nice":false,"zero":false}}}}
]},
{"width":148,"height":146,"view":{"stroke":"#c2ad96","strokeWidth":1.4},
"layer":[
{"data":{"name":"rug"},"transform":[{"filter":"datum.p==='D'"}],"mark":{"type":"rule","stroke":"#555555","strokeWidth":0.7},"encoding":{"x":{"field":"x","type":"quantitative","scale":{"domain":[-0.045,1.057],"nice":false,"zero":false},"axis":{"values":[0,0.2,0.4,0.6,0.8,1],"tickCount":20,"format":".1f","labelOverlap":false,"title":"Nomogram−prediced OS (%)","domain":false,"tickSize":3,"tickColor":"#555555","tickWidth":0.8,"labelFontSize":7,"labelPadding":1.5,"labelColor":"#333333","titleFontSize":7.9,"titleFontWeight":"normal","titleColor":"#333333","titlePadding":3}},"y":{"field":"y","type":"quantitative","scale":{"domain":[-0.035,1.04],"nice":false,"zero":false},"axis":{"values":[0,0.2,0.4,0.6,0.8,1],"tickCount":20,"format":".1f","labelOverlap":false,"title":"Observed OS (%)","domain":false,"tickSize":3,"tickColor":"#555555","tickWidth":0.8,"labelFontSize":7,"labelPadding":1.5,"labelColor":"#333333","titleFontSize":7.9,"titleFontWeight":"normal","titleColor":"#333333","titlePadding":3}},"y2":{"datum":1.04}}},
{"data":{"values":[{}]},"mark":{"type":"rule","stroke":"#d9d9d9","strokeWidth":1},"encoding":{"x":{"datum":0,"type":"quantitative","scale":{"domain":[-0.045,1.057],"nice":false,"zero":false}},"y":{"datum":0,"type":"quantitative","scale":{"domain":[-0.035,1.04],"nice":false,"zero":false}},"x2":{"datum":1},"y2":{"datum":1}}},
{"data":{"name":"cal"},"transform":[{"filter":"datum.p==='D'"}],"mark":{"type":"line","strokeWidth":1},"encoding":{"x":{"field":"x","type":"quantitative","scale":{"domain":[-0.045,1.057],"nice":false,"zero":false}},"y":{"field":"y","type":"quantitative","scale":{"domain":[-0.035,1.04],"nice":false,"zero":false}},"color":{"field":"s","type":"nominal","scale":{"domain":["1−year","3−year"],"range":["#4a72b5","#f2c84b"]},"legend":{"orient":"bottom-right","title":null,"symbolType":"stroke","symbolSize":180,"symbolStrokeWidth":1.2,"labelFontSize":8.7,"labelColor":"#333333","rowPadding":-4,"padding":0,"offset":6,"labelOffset":3}}}},
{"data":{"name":"cal"},"transform":[{"filter":"datum.p==='D'"}],"mark":{"type":"point","filled":true,"size":16,"opacity":1},"encoding":{"x":{"field":"x","type":"quantitative","scale":{"domain":[-0.045,1.057],"nice":false,"zero":false}},"y":{"field":"y","type":"quantitative","scale":{"domain":[-0.035,1.04],"nice":false,"zero":false}},"color":{"field":"s","type":"nominal"}}},
{"data":{"name":"bc"},"transform":[{"filter":"datum.p==='D'"}],"mark":{"type":"point","shape":"M-1,-1L1,1M1,-1L-1,1","filled":false,"size":18,"stroke":"#4f72b0","strokeWidth":0.9,"opacity":1},"encoding":{"x":{"field":"x","type":"quantitative","scale":{"domain":[-0.045,1.057],"nice":false,"zero":false}},"y":{"field":"y","type":"quantitative","scale":{"domain":[-0.035,1.04],"nice":false,"zero":false}}}},
{"data":{"values":[{}]},"mark":{"type":"text","text":"D","fontSize":15,"align":"center","baseline":"middle","color":"#111111"},"encoding":{"x":{"datum":-0.186,"type":"quantitative","scale":{"domain":[-0.045,1.057],"nice":false,"zero":false}},"y":{"datum":1.14,"type":"quantitative","scale":{"domain":[-0.035,1.04],"nice":false,"zero":false}}}},
{"data":{"values":[{}]},"mark":{"type":"text","text":"ICGC cohort","fontSize":7.7,"fontWeight":"bold","align":"center","baseline":"middle","color":"#222222"},"encoding":{"x":{"datum":0.49,"type":"quantitative","scale":{"domain":[-0.045,1.057],"nice":false,"zero":false}},"y":{"datum":1.125,"type":"quantitative","scale":{"domain":[-0.035,1.04],"nice":false,"zero":false}}}}
]},
{"width":148,"height":146,"view":{"stroke":"#c2ad96","strokeWidth":1.4},
"layer":[
{"data":{"name":"rug"},"transform":[{"filter":"datum.p==='E'"}],"mark":{"type":"rule","stroke":"#5f544d","strokeWidth":0.7},"encoding":{"x":{"field":"x","type":"quantitative","scale":{"domain":[-0.045,1.057],"nice":false,"zero":false},"axis":{"values":[0,0.2,0.4,0.6,0.8,1],"tickCount":20,"format":".1f","labelOverlap":false,"title":"Nomogram−prediced OS (%)","domain":false,"tickSize":3,"tickColor":"#555555","tickWidth":0.8,"labelFontSize":7,"labelPadding":1.5,"labelColor":"#333333","titleFontSize":7.9,"titleFontWeight":"normal","titleColor":"#333333","titlePadding":3}},"y":{"field":"y","type":"quantitative","scale":{"domain":[-0.035,1.04],"nice":false,"zero":false},"axis":{"values":[0,0.2,0.4,0.6,0.8,1],"tickCount":20,"format":".1f","labelOverlap":false,"title":"Observed OS (%)","domain":false,"tickSize":3,"tickColor":"#555555","tickWidth":0.8,"labelFontSize":7,"labelPadding":1.5,"labelColor":"#333333","titleFontSize":7.9,"titleFontWeight":"normal","titleColor":"#333333","titlePadding":3}},"y2":{"datum":1.04}}},
{"data":{"values":[{}]},"mark":{"type":"rule","stroke":"#6a6a6a","strokeWidth":0.8,"strokeDash":[1.5,2]},"encoding":{"x":{"datum":0,"type":"quantitative","scale":{"domain":[-0.045,1.057],"nice":false,"zero":false}},"y":{"datum":0,"type":"quantitative","scale":{"domain":[-0.035,1.04],"nice":false,"zero":false}},"x2":{"datum":1},"y2":{"datum":1}}},
{"data":{"name":"cal"},"transform":[{"filter":"datum.p==='E'"}],"mark":{"type":"line","strokeWidth":1},"encoding":{"x":{"field":"x","type":"quantitative","scale":{"domain":[-0.045,1.057],"nice":false,"zero":false}},"y":{"field":"y","type":"quantitative","scale":{"domain":[-0.035,1.04],"nice":false,"zero":false}},"color":{"field":"s","type":"nominal","scale":{"domain":["1−year","3−year","5−year"],"range":["#4a72b5","#f2c84b","#e3545b"]},"legend":{"orient":"bottom-right","title":null,"symbolType":"stroke","symbolSize":180,"symbolStrokeWidth":1.2,"labelFontSize":8.7,"labelColor":"#333333","rowPadding":-4,"padding":0,"offset":6,"labelOffset":3}}}},
{"data":{"name":"cal"},"transform":[{"filter":"datum.p==='E'"}],"mark":{"type":"point","filled":true,"size":16,"opacity":1},"encoding":{"x":{"field":"x","type":"quantitative","scale":{"domain":[-0.045,1.057],"nice":false,"zero":false}},"y":{"field":"y","type":"quantitative","scale":{"domain":[-0.035,1.04],"nice":false,"zero":false}},"color":{"field":"s","type":"nominal"}}},
{"data":{"name":"bc"},"transform":[{"filter":"datum.p==='E'"}],"mark":{"type":"point","shape":"M-1,-1L1,1M1,-1L-1,1","filled":false,"size":18,"stroke":"#4f72b0","strokeWidth":0.9,"opacity":1},"encoding":{"x":{"field":"x","type":"quantitative","scale":{"domain":[-0.045,1.057],"nice":false,"zero":false}},"y":{"field":"y","type":"quantitative","scale":{"domain":[-0.035,1.04],"nice":false,"zero":false}}}},
{"data":{"values":[{}]},"mark":{"type":"text","text":"E","fontSize":15,"align":"center","baseline":"middle","color":"#111111"},"encoding":{"x":{"datum":-0.186,"type":"quantitative","scale":{"domain":[-0.045,1.057],"nice":false,"zero":false}},"y":{"datum":1.128,"type":"quantitative","scale":{"domain":[-0.035,1.04],"nice":false,"zero":false}}}},
{"data":{"values":[{}]},"mark":{"type":"text","text":"GSE14520 cohort","fontSize":7.7,"fontWeight":"bold","align":"center","baseline":"middle","color":"#222222"},"encoding":{"x":{"datum":0.49,"type":"quantitative","scale":{"domain":[-0.045,1.057],"nice":false,"zero":false}},"y":{"datum":1.106,"type":"quantitative","scale":{"domain":[-0.035,1.04],"nice":false,"zero":false}}}}
]},
{"width":148,"height":146,"view":{"stroke":"#c2ad96","strokeWidth":1.4},
"layer":[
{"data":{"name":"rug"},"transform":[{"filter":"datum.p==='F'"}],"mark":{"type":"rule","stroke":"#c4c4c4","strokeWidth":0.7},"encoding":{"x":{"field":"x","type":"quantitative","scale":{"domain":[-0.045,1.057],"nice":false,"zero":false},"axis":{"values":[0,0.2,0.4,0.6,0.8,1],"tickCount":20,"format":".1f","labelOverlap":false,"title":"Nomogram−prediced OS (%)","domain":false,"tickSize":3,"tickColor":"#555555","tickWidth":0.8,"labelFontSize":7,"labelPadding":1.5,"labelColor":"#333333","titleFontSize":7.9,"titleFontWeight":"normal","titleColor":"#333333","titlePadding":3}},"y":{"field":"y","type":"quantitative","scale":{"domain":[-0.035,1.04],"nice":false,"zero":false},"axis":{"values":[0,0.2,0.4,0.6,0.8,1],"tickCount":20,"format":".1f","labelOverlap":false,"title":"Observed OS (%)","domain":false,"tickSize":3,"tickColor":"#555555","tickWidth":0.8,"labelFontSize":7,"labelPadding":1.5,"labelColor":"#333333","titleFontSize":7.9,"titleFontWeight":"normal","titleColor":"#333333","titlePadding":3}},"y2":{"datum":1.04}}},
{"data":{"values":[{}]},"mark":{"type":"rule","stroke":"#d9d9d9","strokeWidth":1},"encoding":{"x":{"datum":0,"type":"quantitative","scale":{"domain":[-0.045,1.057],"nice":false,"zero":false}},"y":{"datum":0,"type":"quantitative","scale":{"domain":[-0.035,1.04],"nice":false,"zero":false}},"x2":{"datum":1},"y2":{"datum":1}}},
{"data":{"name":"cal"},"transform":[{"filter":"datum.p==='F'"}],"mark":{"type":"line","strokeWidth":1},"encoding":{"x":{"field":"x","type":"quantitative","scale":{"domain":[-0.045,1.057],"nice":false,"zero":false}},"y":{"field":"y","type":"quantitative","scale":{"domain":[-0.035,1.04],"nice":false,"zero":false}},"color":{"field":"s","type":"nominal","scale":{"domain":["1−year","3−year"],"range":["#4a72b5","#f2c84b"]},"legend":{"orient":"bottom-right","title":null,"symbolType":"stroke","symbolSize":180,"symbolStrokeWidth":1.2,"labelFontSize":8.7,"labelColor":"#333333","rowPadding":-4,"padding":0,"offset":6,"labelOffset":3}}}},
{"data":{"name":"cal"},"transform":[{"filter":"datum.p==='F'"}],"mark":{"type":"point","filled":true,"size":16,"opacity":1},"encoding":{"x":{"field":"x","type":"quantitative","scale":{"domain":[-0.045,1.057],"nice":false,"zero":false}},"y":{"field":"y","type":"quantitative","scale":{"domain":[-0.035,1.04],"nice":false,"zero":false}},"color":{"field":"s","type":"nominal"}}},
{"data":{"name":"bc"},"transform":[{"filter":"datum.p==='F'"}],"mark":{"type":"point","shape":"M-1,-1L1,1M1,-1L-1,1","filled":false,"size":18,"stroke":"#4f72b0","strokeWidth":0.9,"opacity":1},"encoding":{"x":{"field":"x","type":"quantitative","scale":{"domain":[-0.045,1.057],"nice":false,"zero":false}},"y":{"field":"y","type":"quantitative","scale":{"domain":[-0.035,1.04],"nice":false,"zero":false}}}},
{"data":{"values":[{}]},"mark":{"type":"text","text":"F","fontSize":15,"align":"center","baseline":"middle","color":"#111111"},"encoding":{"x":{"datum":-0.186,"type":"quantitative","scale":{"domain":[-0.045,1.057],"nice":false,"zero":false}},"y":{"datum":1.114,"type":"quantitative","scale":{"domain":[-0.035,1.04],"nice":false,"zero":false}}}},
{"data":{"values":[{}]},"mark":{"type":"text","text":"LIHC−CN cohort","fontSize":7.7,"fontWeight":"bold","align":"center","baseline":"middle","color":"#222222"},"encoding":{"x":{"datum":0.49,"type":"quantitative","scale":{"domain":[-0.045,1.057],"nice":false,"zero":false}},"y":{"datum":1.1,"type":"quantitative","scale":{"domain":[-0.035,1.04],"nice":false,"zero":false}}}}
]}
]}
]
}
